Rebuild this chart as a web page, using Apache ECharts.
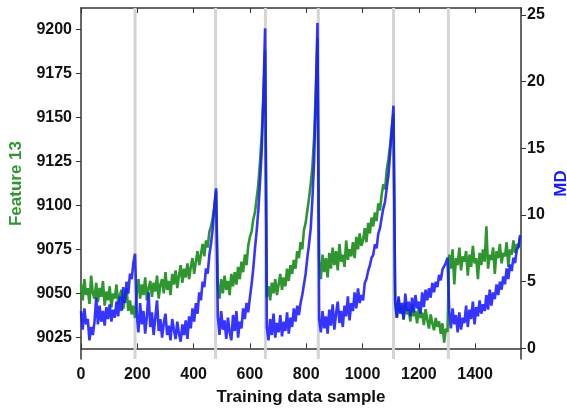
<!DOCTYPE html>
<html><head><meta charset="utf-8">
<script src="https://cdn.jsdelivr.net/npm/echarts@6/dist/echarts.min.js"></script>
<style>html,body{margin:0;padding:0;background:#fff}#c{width:567px;height:409px}</style>
</head><body><div id="c"></div>
<script>
// sample spacing of the listed points (training sample index = i * step)
const step = 6;
const boundaries = [192, 478, 655, 843, 1110, 1305];
const leftTicks = [9025, 9050, 9075, 9100, 9125, 9150, 9175, 9200];
const rightTicks = [0, 5, 10, 15, 20, 25];

const feature13 = [
 9055,9046,9058,9049,9053,9044,9060,9050,9047,9056,
 9045,9053,9048,9057,9043,9051,9046,9054,9042,9050,
 9047,9055,9044,9049,9052,9041,9048,9053,9040,9046,
 9038,9043,9036,
 9050,9058,9047,9055,9049,9059,9046,9053,9057,9048,
 9056,9051,9060,9047,9055,9058,9050,9062,9052,9057,
 9049,9061,9055,9063,9053,9060,9066,9056,9064,9059,
 9067,9058,9065,9070,9061,9068,9074,9066,9072,9078,
 9071,9080,9076,9085,9088,9093,9099,9108,
 9055,9047,9058,9050,9060,9052,9057,9049,9061,9054,
 9062,9055,9065,9058,9068,9062,9072,9066,9077,9082,
 9085,9092,9096,9104,9112,9125,9140,9162,9188,
 9048,9054,9046,9056,9050,9058,9049,9055,9061,9052,
 9059,9054,9064,9057,9066,9061,9069,9064,9074,9070,
 9079,9075,9086,9090,9097,9104,9112,9122,9138,9165,9195,
 9068,9058,9072,9062,9070,9059,9073,9064,9076,9066,
 9074,9063,9078,9068,9072,9065,9080,9069,9075,9071,
 9079,9070,9082,9075,9084,9077,9080,9087,9079,9090,
 9084,9093,9088,9096,9091,9101,9097,9106,9112,9109,
 9120,9126,9134,9144,9152,
 9044,9036,9047,9039,9043,9035,9045,9038,9041,9034,
 9044,9037,9040,9033,9042,9036,9039,9032,9041,9035,
 9030,9038,9033,9029,9036,9031,9034,9027,9033,9022,9030,9028,
 9072,9064,9075,9055,9070,9066,9076,9063,9071,9068,
 9074,9060,9072,9065,9077,9067,9070,9058,9073,9066,
 9075,9068,9088,9064,9072,9069,9076,9061,9074,9070,
 9078,9067,9073,9071,9079,9065,9075,9072,9080,9073,9078,9076,9082
];

const md = [
 2.8,1.4,3.0,1.8,2.2,0.6,1.6,1.0,2.0,3.8,
 1.8,3.2,2.0,2.8,1.7,3.1,2.2,3.3,2.0,2.9,
 2.3,3.5,2.4,3.9,2.8,4.6,3.4,5.0,4.1,5.6,
 5.2,6.4,7.1,
 2.6,1.2,3.4,1.8,2.8,1.1,2.4,4.2,1.6,2.7,
 1.0,2.3,3.6,1.3,2.2,0.8,1.9,2.6,1.0,1.7,
 0.6,2.2,1.4,0.7,2.0,1.1,0.5,1.8,1.0,2.1,
 0.7,2.4,1.5,3.0,2.0,3.4,2.6,4.2,3.6,5.0,
 4.6,6.0,5.6,7.0,7.9,9.0,10.8,12.0,
 2.4,1.0,2.8,1.4,2.1,0.7,2.3,1.2,0.6,2.5,
 1.3,2.8,0.8,2.0,1.5,3.0,2.2,3.4,2.7,3.8,
 4.8,6.0,7.5,8.8,10.4,12.5,14.8,19.0,24.0,
 1.6,0.6,2.2,1.0,2.6,0.8,1.9,1.2,2.5,0.9,
 2.0,1.3,2.7,1.1,2.3,1.6,3.0,2.0,3.2,2.5,
 3.4,4.0,4.8,5.6,6.8,7.8,9.0,11.2,14.0,18.6,24.4,
 2.2,1.2,2.8,1.5,2.4,1.1,2.9,1.7,3.3,1.4,
 2.6,3.5,1.9,2.8,1.6,3.2,2.4,3.9,2.1,3.4,
 2.8,4.2,3.0,4.5,3.4,4.0,3.6,4.9,5.2,5.8,
 6.2,6.8,7.0,7.8,7.5,8.6,9.0,9.8,10.5,11.0,
 12.0,13.0,14.6,16.4,18.2,
 3.6,2.3,3.9,2.6,3.4,2.2,4.1,2.8,3.5,2.4,
 3.8,2.7,4.0,3.0,3.5,2.6,4.2,3.1,4.4,3.6,
 4.5,3.8,4.9,4.2,5.0,4.6,5.5,5.1,5.9,6.0,6.4,6.8,
 2.8,1.5,3.0,1.8,2.5,1.2,2.7,1.4,2.3,1.9,
 3.2,1.6,2.9,2.2,3.5,1.8,3.1,2.4,3.6,2.6,
 3.3,2.8,4.0,2.9,4.4,3.2,4.2,3.7,4.8,4.0,
 5.0,4.4,5.4,4.8,6.0,5.2,6.3,5.8,6.8,6.4,7.4,7.6,8.5
];

const GREEN = '#2f962f';
const BLUE = 'rgba(25,25,255,0.88)';
const FONT = 'Liberation Sans, Arial, sans-serif';
const AX = '#333';
const Y0MIN = 9012.7, Y0MAX = 9212;

// vertical boundary lines drawn as a line series on the left axis scale
const boundaryData = [];
boundaries.forEach(b => { boundaryData.push([b, Y0MIN], [b, Y0MAX], null); });

const chart = echarts.init(document.getElementById('c'), null, {renderer: 'canvas'});
const labelStyle = {color: '#111', fontSize: 16, fontWeight: 'bold', fontFamily: FONT, formatter: v => String(v)};
chart.setOption({
  animation: false,
  backgroundColor: '#fff',
  grid: {left: 81, right: 46, top: 8, bottom: 50, containLabel: false, outerBoundsMode: 'none'},
  xAxis: [{
    type: 'value', min: 0, max: 1563, interval: 200,
    name: 'Training data sample', nameLocation: 'middle', nameGap: 30, nameMoveOverlap: false,
    nameTextStyle: {color: '#111', fontSize: 17, fontWeight: 'bold', fontFamily: FONT},
    axisLine: {show: true, lineStyle: {color: AX, width: 1.5}},
    axisTick: {show: true, inside: true, length: 5, lineStyle: {color: AX}},
    axisLabel: Object.assign({margin: 8, showMaxLabel: false}, labelStyle),
    splitLine: {show: false}
  }, {
    type: 'value', min: 0, max: 1563, interval: 200, position: 'top',
    axisLine: {show: true, onZero: false, lineStyle: {color: AX, width: 1.5}},
    axisTick: {show: true, inside: true, length: 5, lineStyle: {color: AX}},
    axisLabel: {show: false}, splitLine: {show: false}
  }],
  yAxis: [{
    type: 'value', min: Y0MIN, max: Y0MAX, position: 'left',
    name: 'Feature 13', nameLocation: 'middle', nameGap: 56, nameRotate: 90, nameMoveOverlap: false,
    nameTextStyle: {color: GREEN, fontSize: 17, fontWeight: 'bold', fontFamily: FONT},
    axisLine: {show: true, onZero: false, lineStyle: {color: AX, width: 1.5}},
    axisTick: {show: true, inside: false, length: 5, customValues: leftTicks, lineStyle: {color: AX}},
    axisLabel: Object.assign({margin: 9, customValues: leftTicks}, labelStyle),
    splitLine: {show: false}
  }, {
    type: 'value', min: -0.8, max: 25.53, position: 'right',
    name: 'MD', nameLocation: 'middle', nameGap: 32, nameRotate: 90, nameMoveOverlap: false,
    nameTextStyle: {color: '#1a1aff', fontSize: 17, fontWeight: 'bold', fontFamily: FONT},
    axisLine: {show: true, onZero: false, lineStyle: {color: AX, width: 1.5}},
    axisTick: {show: true, inside: false, length: 5, customValues: rightTicks, lineStyle: {color: AX}},
    axisLabel: Object.assign({margin: 6, customValues: rightTicks}, labelStyle),
    splitLine: {show: false}
  }],
  series: [{
    type: 'line', yAxisIndex: 0, z: 1, silent: true, connectNulls: false,
    data: boundaryData, showSymbol: false,
    lineStyle: {color: '#d4d4d4', width: 3}
  }, {
    name: 'Feature 13', type: 'line', yAxisIndex: 0, z: 2,
    data: feature13.map((v, i) => [i * step, v]),
    showSymbol: false, lineStyle: {color: GREEN, width: 2.6}, itemStyle: {color: GREEN}
  }, {
    name: 'MD', type: 'line', yAxisIndex: 1, z: 3,
    data: md.map((v, i) => [i * step, v]),
    showSymbol: false, lineStyle: {color: BLUE, width: 2.6}, itemStyle: {color: BLUE}
  }]
});
</script></body></html>
